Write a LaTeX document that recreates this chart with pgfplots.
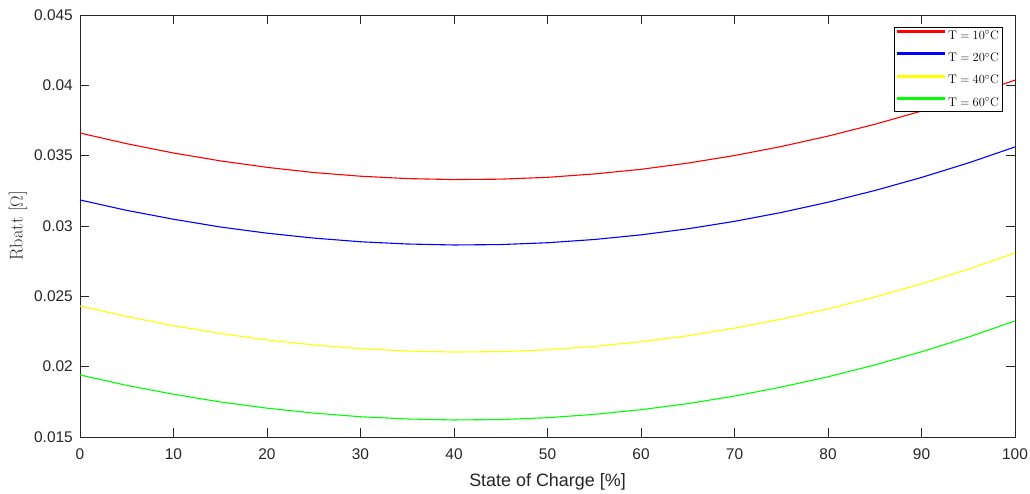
\documentclass[border=0pt]{standalone}
\usepackage{pgfplots}
\pgfplotsset{compat=1.18}
\usepackage{pgfplotstable}
\usepackage{fontspec}
\newfontfamily\helv{Liberation Sans}
\definecolor{axgray}{RGB}{38,38,38}
\definecolor{cTen}{RGB}{255,0,0}
\definecolor{cTwenty}{RGB}{0,0,255}
\definecolor{cForty}{RGB}{255,255,0}
\definecolor{cSixty}{RGB}{0,255,0}

% Battery internal resistance versus state of charge, one column per temperature
\pgfplotstableread{
soc  r10      r20      r40      r60
0    0.03661  0.03185  0.02431  0.01941
5    0.03585  0.03111  0.02357  0.01867
10   0.03519  0.03048  0.02291  0.01804
15   0.03463  0.02993  0.02236  0.01749
20   0.03417  0.02949  0.02190  0.01705
25   0.03380  0.02914  0.02154  0.01670
30   0.03354  0.02888  0.02128  0.01644
35   0.03337  0.02872  0.02111  0.01628
40   0.03330  0.02865  0.02104  0.01621
45   0.03333  0.02868  0.02107  0.01624
50   0.03346  0.02881  0.02120  0.01637
55   0.03370  0.02904  0.02144  0.01661
60   0.03403  0.02937  0.02177  0.01694
65   0.03447  0.02980  0.02220  0.01737
70   0.03501  0.03033  0.02274  0.01791
75   0.03565  0.03096  0.02338  0.01855
80   0.03639  0.03169  0.02411  0.01928
85   0.03723  0.03252  0.02495  0.02012
90   0.03817  0.03345  0.02589  0.02106
95   0.03922  0.03448  0.02693  0.02210
100  0.04037  0.03562  0.02808  0.02325
}\rbatt

\begin{document}
\begin{tikzpicture}
\begin{axis}[
  scale only axis, width=935bp, height=422bp,
  xmin=0, xmax=100, ymin=0.015, ymax=0.045,
  xtick={0,10,...,100},
  ytick={0.015,0.02,0.025,0.03,0.035,0.04,0.045},
  scaled y ticks=false,
  /pgf/number format/assume math mode=true,
  yticklabel={\pgfmathprintnumber[fixed,precision=3]{\tick}},
  ticklabel style={font=\helv\fontsize{15.5}{18}\selectfont, text=axgray},
  yticklabel style={anchor=east, inner sep=0bp, xshift=-7bp},
  xticklabel style={anchor=north, inner sep=0bp, yshift=-11.5bp},
  tick align=inside,
  major tick length=9bp,
  every tick/.style={axgray, line width=0.7bp},
  axis line style={axgray, line width=0.7bp},
  no markers,
  xlabel={State of Charge [\%]},
  xlabel style={font=\helv\fontsize{18}{21}\selectfont, text=axgray,
    at={(axis description cs:0.5,0)}, anchor=base, yshift=-49.5bp},
  ylabel={Rbatt [$\Omega$]},
  ylabel style={font=\fontsize{18.5}{21}\selectfont, text=axgray,
    at={(axis description cs:-0.0663,0.5)}, anchor=center},
  legend cell align=left,
  legend image code/.code={\draw[#1, line width=3bp] (0bp,4bp) -- (48bp,4bp);},
  legend style={at={(axis description cs:0.9861,0.9716)}, anchor=north east,
    inner xsep=1bp, inner ysep=1.4bp,
    font=\fontsize{12.5}{15}\selectfont,
    row sep=8bp,
    /tikz/every even column/.append style={column sep=2bp}},
]
\addplot[cTen, line width=1.1bp] table[x=soc, y=r10] {\rbatt};
\addlegendentry{$\mathrm{T=10^\circ C}$}
\addplot[cTwenty, line width=1.1bp] table[x=soc, y=r20] {\rbatt};
\addlegendentry{$\mathrm{T=20^\circ C}$}
\addplot[cForty, line width=1.1bp] table[x=soc, y=r40] {\rbatt};
\addlegendentry{$\mathrm{T=40^\circ C}$}
\addplot[cSixty, line width=1.1bp] table[x=soc, y=r60] {\rbatt};
\addlegendentry{$\mathrm{T=60^\circ C}$}
\end{axis}
\path ([xshift=-80bp,yshift=-53bp]current axis.south west)
  rectangle ([xshift=15bp,yshift=15bp]current axis.north east);
\end{tikzpicture}
\end{document}
